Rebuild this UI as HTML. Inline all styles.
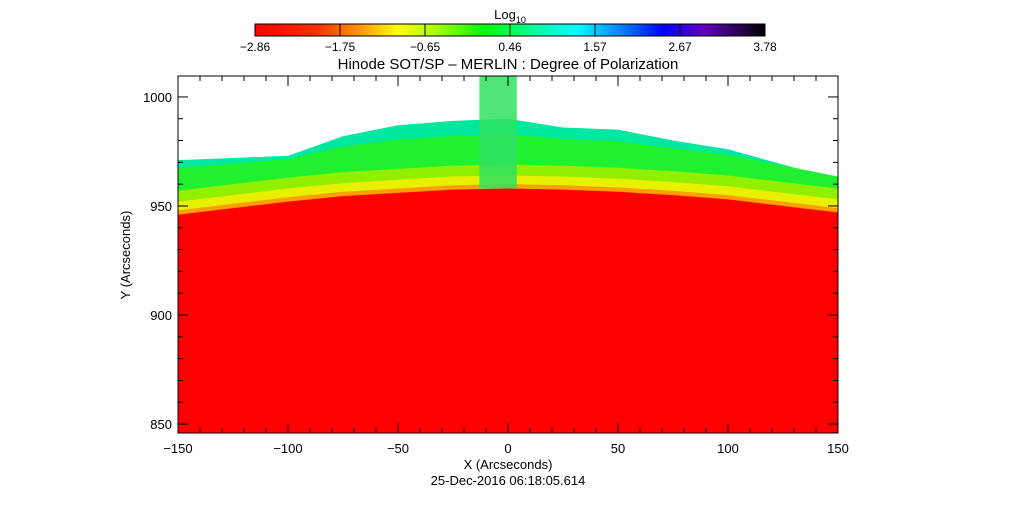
<!DOCTYPE html>
<html><head><meta charset="utf-8"><style>
body{margin:0;background:#fff;}
svg text{font-family:"Liberation Sans",sans-serif;fill:#000;}
</style></head><body>
<svg id="c" width="1017" height="512" viewBox="0 0 1017 512">
<defs>
<linearGradient id="cb" x1="0" x2="1" y1="0" y2="0">
<stop offset="0" stop-color="#ff0000"/><stop offset="0.12" stop-color="#ff3000"/><stop offset="0.2" stop-color="#ff9000"/>
<stop offset="0.28" stop-color="#ffff00"/><stop offset="0.36" stop-color="#a0ff00"/><stop offset="0.45" stop-color="#00ff00"/>
<stop offset="0.55" stop-color="#00ffa0"/><stop offset="0.63" stop-color="#00ffff"/><stop offset="0.72" stop-color="#0080ff"/>
<stop offset="0.8" stop-color="#0000ff"/><stop offset="0.88" stop-color="#6000c0"/><stop offset="1" stop-color="#000000"/>
</linearGradient>
<clipPath id="pc"><rect x="178" y="76" width="660" height="357"/></clipPath>
</defs>
<text x="510" y="19" text-anchor="middle" font-size="13">Log<tspan font-size="9" dy="4">10</tspan></text>
<rect x="255" y="24" width="510" height="12" fill="url(#cb)" stroke="#000" stroke-width="1"/>
<g id="cbt"></g>
<text x="508" y="69" text-anchor="middle" font-size="15">Hinode SOT/SP – MERLIN : Degree of Polarization</text>
<g id="plot" clip-path="url(#pc)"></g>
<rect x="178" y="76" width="660" height="357" fill="none" stroke="#000" stroke-width="1"/>
<g id="axes"></g>
<text x="508" y="469" text-anchor="middle" font-size="13">X (Arcseconds)</text>
<text x="130" y="255" text-anchor="middle" font-size="13" transform="rotate(-90 130 255)">Y (Arcseconds)</text>
<text x="508" y="485" text-anchor="middle" font-size="13">25-Dec-2016 06:18:05.614</text>
</svg>
<script>
const xs=[-150,-125,-100,-75,-50,-25,0,25,50,75,100,125,150];
const limbY=[946,949,952,954.5,956,957.5,958,957.5,956.5,955,953,950,947];
const outerY=[971,972,973,982,987,989,990,986,985,980,976,969,962];
const cbTicks=["-2.86","-1.75","-0.65","0.46","1.57","2.67","3.78"];
const xTicks=[-150,-100,-50,0,50,100,150];
const yTicks=[850,900,950,1000];
const X0=-150,X1=150,Y0=845.9,Y1=1009.6;
const px=v=>178+(v-X0)/(X1-X0)*660;
const py=v=>433-(v-Y0)/(Y1-Y0)*357;
const NS="http://www.w3.org/2000/svg";
function mk(tag,attrs,parent){const e=document.createElementNS(NS,tag);for(const k in attrs)e.setAttribute(k,attrs[k]);parent.appendChild(e);return e;}
const plot=document.getElementById('plot');
function band(lowF,highF,fill,name){
  let d="M"+xs.map((x,i)=>px(x)+","+py(highF(i))).join(" L");
  for(let i=xs.length-1;i>=0;i--)d+=" L"+px(xs[i])+","+py(lowF(i));
  const p=mk('path',{d:d+"Z",fill:fill},plot);
  
  
}
const bot=()=>Y0-5;
band(bot,i=>outerY[i],"#00e8a0","offlimb-outer");
band(bot,i=>(outerY[i]+limbY[i]+10)/2+4,"#20f030","offlimb-green");
band(bot,i=>limbY[i]+11,"#90f000","offlimb-yellowgreen");
band(bot,i=>limbY[i]+6,"#e8f000","offlimb-yellow");
band(bot,i=>limbY[i]+2,"#ffa000","limb-orange");
band(bot,i=>limbY[i],"#ff0000","solar-disk");
const jet=mk('rect',{x:px(-13),y:76,width:px(4)-px(-13),height:py(958)-76,fill:"#30e060",opacity:0.85},plot);


const ax=document.getElementById('axes');
for(let v=-150;v<=150;v+=10){const big=v%50===0;const l=big?10:5;
 const t1=mk('line',{x1:px(v),x2:px(v),y1:433,y2:433-l,stroke:"#000"},ax);
 const t2=mk('line',{x1:px(v),x2:px(v),y1:76,y2:76+l,stroke:"#000"},ax);}
for(let v=850;v<=1000;v+=10){const big=v%50===0;const l=big?10:5;
 const t1=mk('line',{x1:178,x2:178+l,y1:py(v),y2:py(v),stroke:"#000"},ax);
 const t2=mk('line',{x1:838,x2:838-l,y1:py(v),y2:py(v),stroke:"#000"},ax);}
xTicks.forEach(v=>{const t=mk('text',{x:px(v),y:453,'text-anchor':'middle','font-size':13},ax);t.textContent=String(v).replace('-','−');
 });
yTicks.forEach(v=>{const t=mk('text',{x:172,y:py(v)+5,'text-anchor':'end','font-size':13},ax);t.textContent=v;
 });
const cbt=document.getElementById('cbt');
cbTicks.forEach((s,i)=>{const x=255+i*510/(cbTicks.length-1);
 const l=mk('line',{x1:x,x2:x,y1:24,y2:36,stroke:"#000"},cbt);
 const t=mk('text',{x:x,y:51,'text-anchor':'middle','font-size':12},cbt);t.textContent=s.replace('-','−');
 });
</script>
</body></html>
